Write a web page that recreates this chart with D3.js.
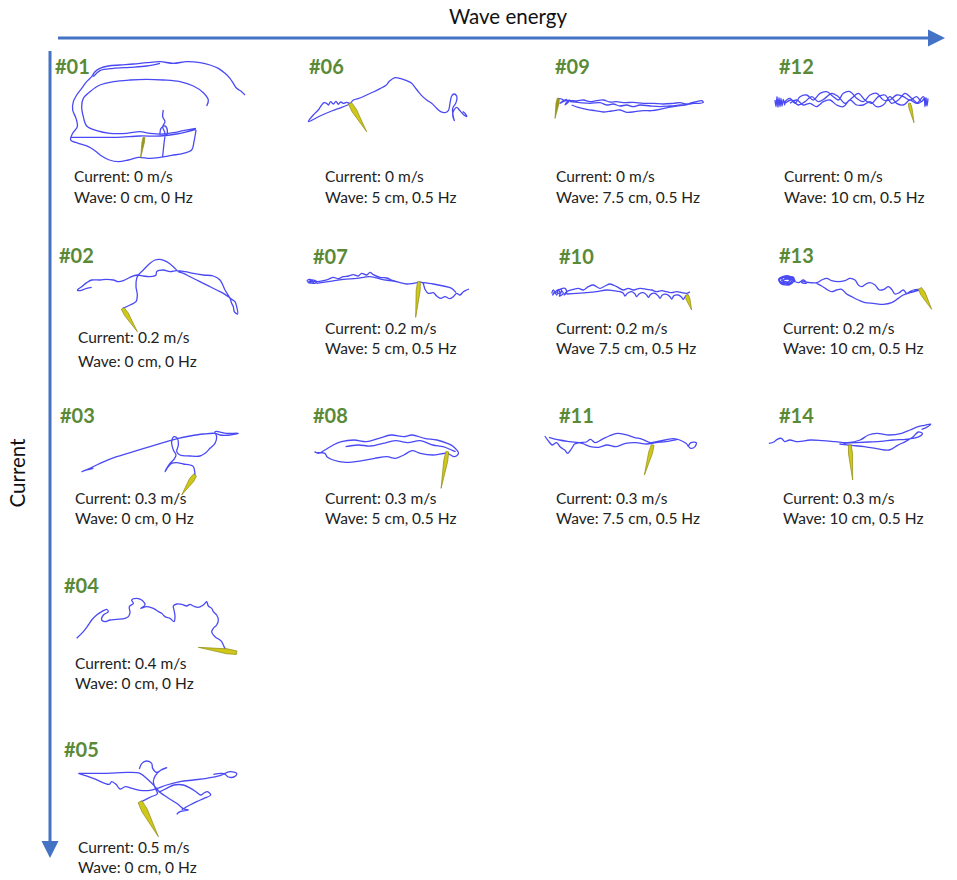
<!DOCTYPE html>
<html><head><meta charset="utf-8">
<script src="https://cdn.jsdelivr.net/npm/d3@7"></script>
<style>body{margin:0;background:#fff}svg{display:block}text{font-family:Lato,"Open Sans",sans-serif}</style>
</head><body>
<svg id="c" width="957" height="880"></svg>
<script>
// ---------- DATA ----------
const categories = ["#01","#02","#03","#04","#05","#06","#07","#08","#09","#10","#11","#12","#13","#14"];
const currentLabels = ["Current: 0 m/s","Current: 0.2 m/s","Current: 0.3 m/s","Current: 0.4 m/s","Current: 0.5 m/s",
  "Current: 0 m/s","Current: 0.2 m/s","Current: 0.3 m/s","Current: 0 m/s","Current: 0.2 m/s","Current: 0.3 m/s",
  "Current: 0 m/s","Current: 0.2 m/s","Current: 0.3 m/s"];
const waveLabels = ["Wave: 0 cm, 0 Hz","Wave: 0 cm, 0 Hz","Wave: 0 cm, 0 Hz","Wave: 0 cm, 0 Hz","Wave: 0 cm, 0 Hz",
  "Wave: 5 cm, 0.5 Hz","Wave: 5 cm, 0.5 Hz","Wave: 5 cm, 0.5 Hz","Wave: 7.5 cm, 0.5 Hz","Wave 7.5 cm, 0.5 Hz","Wave: 7.5 cm, 0.5 Hz",
  "Wave: 10 cm, 0.5 Hz","Wave: 10 cm, 0.5 Hz","Wave: 10 cm, 0.5 Hz"];
const axisTitles = ["Wave energy","Current"];

// trajectories (tracked positions, in picture units of each frame; null = break)
const traj01 = [[585,135],[575,125],[560,115],[550,100],[540,85],[525,70],[505,55],[480,45],[450,38],[410,35],[370,40],[330,35],[290,38],[250,42],[210,45],[175,48],[150,55],[135,65],[125,80],[110,95],[95,115],[80,135],[70,155],[68,180],[78,205],[82,230],[68,250],[62,270],[85,280],[115,290],[135,302],[155,318],[178,330],[205,335],[235,330],[265,322],[300,325],[330,322],[365,316],[400,310],[425,300],[432,275],[438,240],null,
  [438,235],[400,242],[370,248],[340,252],[300,250],[270,245],[230,250],[180,250],[140,242],[110,228],[100,200],[95,170],[100,145],[120,125],[150,105],[190,95],[240,90],[290,88],[340,90],[390,95],[430,108],[460,128],[475,150],[470,168],null,
  [62,262],[120,262],[200,262],[270,258],[330,258],[380,252],[438,238],null,
  [130,80],[150,62],[190,55],[240,52],[290,48],[330,40],null,
  [340,180],[338,200],[345,215],[338,230],[345,250],[342,280],[338,320],null,
  [330,255],[333,235],[345,228],[352,240],[350,258]];
const traj02 = [[218,205],[240,195],[258,185],[262,165],[258,140],[260,115],[265,105],[280,90],[300,70],[315,60],[330,58],[350,65],[370,80],[385,95],[400,100],[420,110],[440,120],[460,130],[480,140],[500,150],[520,160],[535,170],[545,178],[555,185],[560,200],[563,222],[553,215],[550,200],[545,190],[540,175],[525,150],[510,120],[490,108],[460,105],[430,100],[405,95],[380,92],[360,95],[340,90],[320,95],[318,105],[300,110],[280,108],[262,105],[240,112],[220,122],[205,125],[190,120],[170,118],[150,120],[125,120],[110,128],[95,140],[82,150],[90,152],[110,145],[125,142]];
const traj03 = [[435,225],[430,200],[420,195],[400,192],[380,188],[365,190],[355,200],[345,215],[350,205],[360,190],[372,178],[378,165],[370,150],[365,125],[372,110],[382,115],[385,135],[380,155],[390,165],[420,168],[450,168],[465,160],[480,145],[495,130],[500,110],[495,95],[530,100],[565,100],[540,105],[510,105],[495,100],[460,102],[420,108],[385,115],[350,125],[300,140],[250,155],[200,170],[150,190],[120,205],[95,215],[110,210],[130,205]];
const traj04 = [[80,205],[100,185],[115,165],[125,150],[140,135],[155,125],[170,118],[175,125],[160,135],[155,150],[165,155],[180,150],[200,148],[225,145],[235,140],[240,128],[238,110],[250,100],[245,90],[260,85],[275,90],[285,105],[272,115],[290,110],[310,115],[325,125],[335,130],[345,140],[360,145],[372,155],[375,140],[372,120],[370,108],[380,102],[395,103],[410,108],[420,103],[430,108],[445,112],[460,105],[465,100],[470,95],[475,108],[485,115],[490,125],[500,135],[505,150],[500,165],[490,175],[485,185],[495,200],[510,210],[515,215],[520,225],[525,235],[530,240]];
const traj05 = [[115,115],[200,115],[265,112],[300,115],[322,132],[345,155],[358,170],[380,186],[410,205],[432,222],[445,225],[420,230],[410,238],null,
  [115,115],[160,130],[208,148],[215,140],[228,148],[240,162],[256,155],[276,160],[300,166],[330,166],[352,160],[380,150],[420,140],[460,135],[500,130],[540,122],[570,110],[590,115],[584,125],[565,126],[552,116],[520,118],null,
  [298,102],[305,86],[320,78],[335,85],[338,100],[350,112],[368,102],[380,98],[362,106],[346,122],[340,140],[346,160],[352,176],[332,186],[312,196],[300,202],null,
  [356,172],[380,160],[402,150],[430,150],[452,160],[470,172],[482,180],[492,174],[502,170],[512,180],[492,190],[470,200],[450,210],[425,224]];
const traj06 = [[150,162],[125,172],[95,183],[60,198],[25,215],[40,195],[55,180],[65,165],[72,158],[80,160],[85,165],[92,155],[100,162],[108,154],[115,163],[122,156],[130,160],[140,157],[150,160],[160,150],[180,144],[200,135],[220,126],[240,116],[258,106],[268,94],[285,83],[300,85],[320,92],[335,100],[345,112],[355,125],[365,137],[380,150],[395,160],[410,175],[422,185],[435,188],[445,182],[450,160],[455,138],[462,132],[470,138],[468,158],[458,175],[460,200],[463,212],[458,195],[462,180],[470,172],[478,180],[485,188],[492,195],[500,200],[495,190],[488,185]];
const traj07 = [[20,122],[30,118],[40,128],[25,128],[35,120],[50,125],[45,130],[22,125],[50,125],[70,122],[85,118],[100,112],[115,116],[130,110],[145,108],[160,104],[175,108],[185,100],[200,105],[210,97],[220,104],[240,112],[260,114],[280,122],[300,128],[320,132],[340,130],[357,127],[368,128],[375,148],[385,160],[400,158],[410,168],[422,175],[435,170],[450,176],[462,168],[470,160],[480,165],[490,155],[500,150],[507,147],null,
  [50,130],[90,124],[130,118],[170,115],[210,110],[245,118],[270,122],[295,126],null,
  [368,128],[400,132],[430,138],[455,145],[468,158]];
const traj08 = [[35,155],[45,160],[60,150],[80,135],[100,125],[130,120],[160,125],[190,115],[220,105],[250,110],[270,105],[300,115],[330,120],[355,130],[370,140],[382,160],[372,170],[355,160],[320,165],[290,160],[270,152],[250,165],[230,175],[210,170],[180,175],[150,182],[110,187],[80,180],[65,170],[60,160],[40,158],null,
  [110,140],[140,135],[170,138],[200,130],[230,122],[260,128],[290,122],[320,135],[345,140],[365,150],[375,155]];
const traj09 = [[55,145],[70,150],[60,160],[80,148],[65,155],[90,150],[75,165],[85,152],[110,153],[130,150],[150,155],[170,152],[190,150],[210,156],[230,155],[250,158],[280,157],[310,160],[340,160],[370,162],[400,160],[420,158],[440,162],[455,158],[470,155],[485,152],[490,157],[475,160],[460,160],null,
  [90,155],[120,158],[150,160],[180,158],[200,165],[220,162],[240,168],[260,165],[280,170],[300,165],[330,168],[360,170],[390,168],[420,165],[450,162],null,
  [95,165],[115,172],[140,178],[165,182],[190,186],[215,183],[240,180],[260,187],[285,185],[310,182],[335,182],[360,178],[385,172],[410,168],[435,165],[460,160]];
const traj10 = [[35,160],[40,150],[50,165],[55,148],[60,162],[45,155],[38,165],[52,150],[65,150],[58,168],[70,160],[62,148],[75,145],[80,158],[72,165],[80,155],[100,148],[115,145],[130,150],[145,140],[160,135],[180,145],[195,138],[210,132],[230,140],[250,150],[265,145],[280,150],[300,145],[320,148],[335,150],[350,155],[365,152],[380,155],[395,158],[410,155],[425,158],[440,160],[450,155],null,
  [80,162],[110,160],[140,158],[170,155],[200,150],[220,152],[240,155],[250,160],[255,168],[262,160],[275,155],[285,162],[290,170],[297,162],[310,158],[320,165],[325,172],[332,163],[345,160],[355,168],[360,175],[367,165],[380,163],[390,170],[395,177],[402,167],[415,165],[425,172],[430,178],[437,168],[445,165]];
const traj11 = [[590,108],[598,122],[608,135],[618,128],[628,142],[638,150],[645,160],[655,145],[662,132],[675,128],[690,126],[700,118],[712,128],[728,118],[745,108],[765,100],[785,104],[805,112],[825,118],[845,128],[862,124],[880,120],[900,116],[915,120],[930,130],[942,145],[952,140],[955,128],[942,128],[935,140],null,
  [600,112],[625,120],[650,125],[680,130],[700,140],[720,142],[740,135],[762,140],[785,130],[810,128],[835,132],[858,128],[885,124],[910,118]];
const traj12 = [[15,150],[18,170],[21,140],[24,172],[27,143],[30,170],[33,145],[36,168],[40,148],[44,165],[45,155],[60,145],[75,160],[90,140],[110,135],[130,150],[150,130],[170,125],[190,140],[205,150],[220,130],[240,125],[260,145],[280,155],[300,135],[320,130],[340,150],[360,150],[380,135],[400,140],[420,150],[440,140],[455,155],[462,145],[465,170],[468,143],[471,168],[474,145],null,
  [45,160],[65,150],[85,165],[105,155],[125,140],[145,155],[165,145],[185,130],[205,140],[225,160],[245,145],[265,130],[285,150],[305,160],[325,140],[345,135],[365,160],[385,150],[405,130],[425,145],[445,160],[460,150],[470,145],null,
  [60,160],[80,150],[100,165],[120,160],[140,170],[160,155],[180,150],[200,165],[220,170],[240,150],[260,165],[280,165],[300,155],[320,170],[340,165],[360,140],[380,160],[400,165],[420,150],[440,160],[460,140],[470,165]];
const traj13 = [[720,115],[735,108],[750,112],[760,125],[745,135],[725,130],[718,120],[730,112],[755,115],[765,122],[740,130],[722,125],[735,118],[760,118],[748,108],[728,110],[716,118],[724,132],[742,134],[758,128],[762,114],[740,110],[726,116],[732,128],[750,128],[756,118],[738,114],[730,122],[744,126],[752,120],[775,128],[790,120],[800,130],[785,128],[790,125],[810,128],[830,128],[845,120],[860,115],[875,122],[895,125],[915,122],[930,115],[945,120],[955,135],[965,140],[978,132],[990,128],[1005,135],[1018,150],[1032,148],[1045,140],[1055,148],[1065,162],[1078,158],[1090,150],[1100,160],[1110,155],[1120,150],[1135,148],[1145,150],null,
  [830,130],[845,138],[860,148],[875,155],[890,150],[905,148],[920,162],[935,170],[955,180],[975,188],[1000,190],[1030,193],[1055,188],[1075,175],[1090,165],[1110,158],[1140,150]];
const traj14 = [[1130,130],[1142,126],[1150,118],[1160,115],[1168,125],[1180,120],[1200,125],[1230,120],[1260,122],[1290,125],[1320,128],[1350,120],[1370,105],[1390,100],[1420,105],[1450,100],[1470,90],[1490,80],[1505,76],[1520,72],[1510,82],[1498,88],null,
  [1300,132],[1330,136],[1360,140],[1390,146],[1420,150],[1440,136],[1460,124],[1478,110],[1490,96],[1500,100],[1492,110],[1476,115],[1460,118],[1430,120],[1400,124],[1370,126],[1340,128],[1310,130]];
const trajectories = [traj01,traj02,traj03,traj04,traj05,traj06,traj07,traj08,traj09,traj10,traj11,traj12,traj13,traj14];

// plant (rod) base and tip, same units
const rodBase = [[282,262],[218,205],[435,225],[560,248],[300,200],[150,160],[357,125],[355,155],[55,145],[440,165],[850,135],[418,160],[1140,145],[1325,135]];
const rodTip  = [[272,322],[262,275],[395,285],[445,232],[355,305],[200,245],[347,232],[340,265],[45,205],[455,210],[830,225],[432,218],[1175,208],[1332,240]];

// ---------- LAYOUT ----------
const frames = {
  f01:{x:50,y:50,kx:3,ky:3}, f02:{x:50,y:240,kx:3,ky:3}, f03:{x:50,y:400,kx:3,ky:3}, f04:{x:50,y:570,kx:3,ky:3},
  f05:{x:40,y:735,kx:3,ky:3}, f06:{x:300,y:50,kx:3,ky:3}, f07:{x:300,y:240,kx:3,ky:3}, fR3:{x:300,y:400,kx:2.41,ky:3},
  f09:{x:540,y:50,kx:3,ky:3}, fR2:{x:540,y:240,kx:3,ky:3}, f12:{x:770,y:50,kx:3,ky:3}
};
const panelFrame = ["f01","f02","f03","f04","f05","f06","f07","fR3","f09","fR2","fR3","f12","fR2","fR3"];
const labelPos = [[55,74],[59,263],[60,423],[64,593],[64,757],[309,74],[313,264],[313,423],[555,74],[559,264],[559,423],[779,74],[779,263],[779,423]];
const textPos = [[74,182,203],[78,343,367],[75,504,524],[75,669,689],[78,853,873],[325,182,203],[325,334,354],[325,504,524],
  [556,182,203],[556,334,354],[556,504,524],[784,182,203],[783,334,354],[783,504,524]];
const rodWidth = [2.5,4.5,5,5,6,5,4,4,3,4,4,3,5,4];

const svg = d3.select("#c");
const blue = "#4472c4";

// axes arrows
const ax = d3.scaleLinear().domain([0,1]).range([58,945]);
const ay = d3.scaleLinear().domain([0,1]).range([51,858]);
svg.append("line").attr("x1",ax(0)).attr("x2",ax(1)-14).attr("y1",38).attr("y2",38).attr("stroke",blue).attr("stroke-width",3);
svg.append("path").attr("d",`M${ax(1)},38 L${ax(1)-17},29.5 L${ax(1)-17},46.5Z`).attr("fill",blue);
svg.append("line").attr("x1",50).attr("x2",50).attr("y1",ay(0)).attr("y2",ay(1)-14).attr("stroke",blue).attr("stroke-width",3);
svg.append("path").attr("d",`M50,${ay(1)} L41.5,${ay(1)-17} L58.5,${ay(1)-17}Z`).attr("fill",blue);
svg.append("text").attr("x",508).attr("y",24).attr("text-anchor","middle").attr("font-size",20.5).attr("fill","#111").text(axisTitles[0]);
svg.append("text").attr("transform","translate(25,473) rotate(-90)").attr("text-anchor","middle").attr("font-size",20.5).attr("fill","#111").text(axisTitles[1]);

categories.forEach((cat,i)=>{
  const f = frames[panelFrame[i]];
  const sx = d3.scaleLinear().domain([0,300]).range([f.x, f.x+300/f.kx]);
  const sy = d3.scaleLinear().domain([0,300]).range([f.y, f.y+300/f.ky]);
  const line = d3.line().defined(d=>d!==null).x(d=>sx(d[0])).y(d=>sy(d[1])).curve(d3.curveCatmullRom.alpha(0.5));
  svg.append("path").attr("d",line(trajectories[i])).attr("fill","none")
    .attr("stroke","#2a2af2").attr("stroke-opacity",0.85).attr("stroke-width",1.3).attr("stroke-linejoin","round");
  // rod
  const b=[sx(rodBase[i][0]),sy(rodBase[i][1])], t=[sx(rodTip[i][0]),sy(rodTip[i][1])];
  const dx=t[0]-b[0], dy=t[1]-b[1], L=Math.hypot(dx,dy), nx=-dy/L, ny=dx/L, w=rodWidth[i]/2;
  const m=[b[0]+dx*0.25,b[1]+dy*0.25];
  const pts=[[b[0]+nx*w*0.7,b[1]+ny*w*0.7],[m[0]+nx*w,m[1]+ny*w],t,[m[0]-nx*w,m[1]-ny*w],[b[0]-nx*w*0.7,b[1]-ny*w*0.7]];
  svg.append("path").attr("d","M"+pts.map(p=>p.join(",")).join("L")+"Z")
    .attr("fill", (i===0||i===8)?"#9c9a1e":"#cfc81a").attr("stroke","#8d8a12").attr("stroke-width",0.7);
  // labels
  svg.append("text").attr("x",labelPos[i][0]).attr("y",labelPos[i][1]).attr("font-size",20).attr("font-weight","bold")
    .attr("fill","#5b8a37").text(cat);
  svg.append("text").attr("x",textPos[i][0]).attr("y",textPos[i][1]).attr("font-size",15.5).attr("fill","#222").text(currentLabels[i]);
  svg.append("text").attr("x",textPos[i][0]).attr("y",textPos[i][2]).attr("font-size",15.5).attr("fill","#222").text(waveLabels[i]);
});
</script>
</body></html>
